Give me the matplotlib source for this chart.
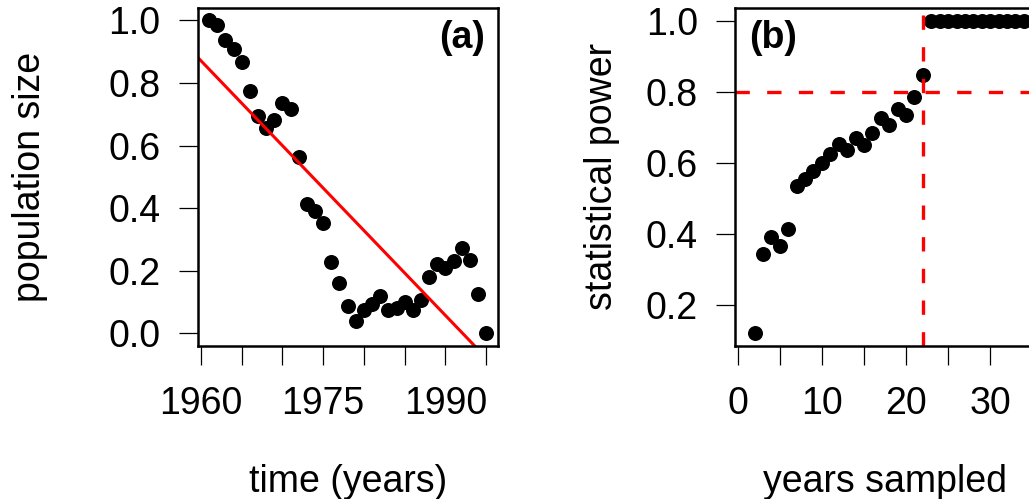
import numpy as np
import matplotlib
matplotlib.use('Agg')
import matplotlib.pyplot as plt

plt.rcParams['font.family'] = ['Liberation Sans', 'DejaVu Sans']

# panel (a): population time series
years = list(range(1961, 1996))
pop_size = [1.00, 0.985, 0.937, 0.910, 0.868, 0.775, 0.694, 0.655, 0.682, 0.735,
            0.718, 0.564, 0.413, 0.392, 0.351, 0.228, 0.160, 0.087, 0.039, 0.075,
            0.094, 0.120, 0.075, 0.081, 0.101, 0.075, 0.106, 0.181, 0.220, 0.208,
            0.231, 0.273, 0.234, 0.124, 0.000]

# panel (b): power vs years sampled
years_sampled = list(range(2, 35))
power = [0.121, 0.344, 0.391, 0.367, 0.414, 0.536, 0.555, 0.578, 0.601, 0.625,
         0.652, 0.637, 0.669, 0.651, 0.683, 0.726, 0.707, 0.752, 0.735, 0.785,
         0.847, 1.0, 1.0, 1.0, 1.0, 1.0, 1.0, 1.0, 1.0, 1.0,
         1.0, 1.0, 1.0]
power_threshold = 0.8
years_needed = 22

fs = 27
red = '#ff0000'

fig = plt.figure(figsize=(10.29, 4.99), dpi=100)
fig.set_facecolor('w')
ax1 = fig.add_axes([0.1921, 0.3072, 0.2915, 0.6768])
ax2 = fig.add_axes([0.7143, 0.3072, 0.2915, 0.6768])

for ax in (ax1, ax2):
    for s in ax.spines.values():
        s.set_linewidth(1.8)
    ax.tick_params(direction='out', length=13.7, width=0.9, labelsize=fs)
    ax.tick_params(axis='x', pad=15)
    ax.tick_params(axis='y', pad=13)

# (a)
ax1.plot(years, pop_size, 'o', color='k', ms=10.8, mew=0)
coef = np.polyfit(years, pop_size, 1)
ax1.axline((1960, np.polyval(coef, 1960)), slope=coef[0], color=red, lw=2.2)
ax1.set_xlim(1959.6, 1996.4)
ax1.set_ylim(-0.04, 1.04)
ax1.set_xticks(range(1960, 1996, 5))
ax1.set_xticklabels(['1960', '', '', '1975', '', '', '1990', ''])
ax1.set_yticks([0, 0.2, 0.4, 0.6, 0.8, 1.0])
ax1.set_yticklabels(['0.0', '0.2', '0.4', '0.6', '0.8', '1.0'])
ax1.set_xlabel('time (years)', fontsize=fs, va='center')
ax1.xaxis.set_label_coords(0.5, -0.405)
ax1.set_ylabel('population size', fontsize=fs, va='center')
ax1.yaxis.set_label_coords(-0.559, 0.5)
ax1.text(0.958, 0.91, '(a)', transform=ax1.transAxes, fontsize=fs,
         fontweight='bold', ha='right', va='center')

# (b)
ax2.plot(years_sampled, power, 'o', color='k', ms=10.8, mew=0)
ax2.axhline(power_threshold, color=red, lw=2.4, ls=(0, (4.3, 5.2)))
ax2.axvline(years_needed, color=red, lw=2.4, ls=(0, (4.3, 5.2)))
ax2.set_xlim(-0.32, 35.32)
ax2.set_ylim(0.0857, 1.0357)
ax2.set_xticks(range(0, 36, 5))
ax2.set_xticklabels(['0', '', '10', '', '20', '', '30', ''])
ax2.set_yticks([0.2, 0.4, 0.6, 0.8, 1.0])
ax2.set_yticklabels(['0.2', '0.4', '0.6', '0.8', '1.0'])
ax2.set_xlabel('years sampled', fontsize=fs, va='center')
ax2.xaxis.set_label_coords(0.5, -0.405)
ax2.set_ylabel('statistical power', fontsize=fs, va='center')
ax2.yaxis.set_label_coords(-0.443, 0.5)
ax2.text(0.0467, 0.91, '(b)', transform=ax2.transAxes, fontsize=fs,
         fontweight='bold', ha='left', va='center')

fig.savefig('out.png', dpi=100)
plt.close()
